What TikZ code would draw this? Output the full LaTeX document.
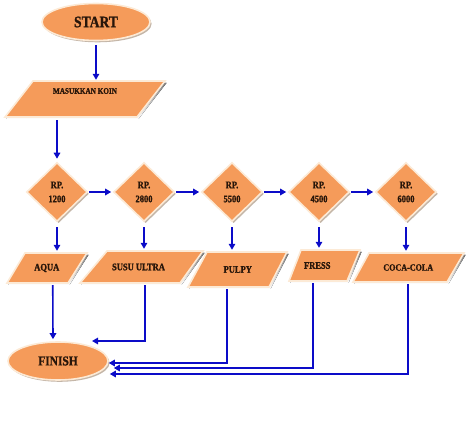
\documentclass[tikz,border=0pt]{standalone}
\usepackage{fontspec}
\newfontfamily\deco[FakeStretch=0.85, BoldFeatures={FakeBold=1.2}]{Liberation Serif}
\usetikzlibrary{shapes.geometric,arrows.meta,shadows,calc}
\definecolor{org}{RGB}{245,155,90}
\definecolor{rim}{RGB}{252,234,214}
\definecolor{shade}{RGB}{196,182,168}
\definecolor{ink}{RGB}{40,22,10}
\definecolor{flow}{RGB}{12,12,200}
\tikzset{
  box/.style={fill=org, draw=rim, line width=1.6pt, text=ink,
    drop shadow={shadow xshift=1.6pt, shadow yshift=-1.8pt, fill=shade, opacity=1}},
  oval/.style={box, ellipse, inner sep=0pt},
  choice/.style={box, diamond, inner sep=0pt, minimum width=61pt, minimum height=59pt,
    align=center, font=\deco\bfseries\fontsize{10}{14}\selectfont},
  lbl/.style={inner sep=0pt, text=ink, font=\deco\bfseries\fontsize{10}{12}\selectfont},
  flowarrow/.style={draw=flow, line width=1.6pt, -{Triangle[length=6pt,width=6.5pt]}},
}
\newcommand\para[8]{%
  \fill[shade] (#2+1.6,#6+1.8) -- (#3+1.6,#6+1.8) -- (#5+1.6,#7+1.8) -- (#4+1.6,#7+1.8) -- cycle;
  \filldraw[fill=org, draw=rim, line width=1.6pt] (#2,#6) -- (#3,#6) -- (#5,#7) -- (#4,#7) -- cycle;
  \node[lbl, minimum height={#7-#6}] (#1) at ({(#2+#3+#4+#5)/4},{(#6+#7)/2}) {#8};
}
\begin{document}
\begin{tikzpicture}[x=1pt,y=-1pt]
\useasboundingbox (0,0) rectangle (474,422);

% terminals
\node[oval, minimum width=108pt, minimum height=37pt, font=\deco\bfseries\fontsize{16}{18}\selectfont] (start) at (96,22) {START};
\node[oval, minimum width=100pt, minimum height=38pt, font=\deco\bfseries\fontsize{13.5}{16}\selectfont] (finish) at (58,361) {FINISH};

% input
\para{masuk}{33}{165}{5}{137}{81}{117}{\fontsize{8.5}{10}\selectfont\raisebox{16pt}{MASUKKAN KOIN}}

% decisions
\node[choice] (d1) at (57,192)  {RP.\\1200};
\node[choice] (d2) at (144,192) {RP.\\2800};
\node[choice] (d3) at (232,192) {RP.\\5500};
\node[choice] (d4) at (319,192) {RP.\\4500};
\node[choice] (d5) at (406,192) {RP.\\6000};

% outputs
\para{aqua}{25}{87}{7}{68}{253}{283}{AQUA}
\para{susu}{107}{203}{80}{180}{251}{283}{\hspace*{-8pt}SUSU ULTRA}
\para{pulpy}{207}{287}{188}{269}{252}{287}{PULPY}
\para{fress}{301}{360}{289}{347}{250}{281}{\hspace*{-14pt}FRESS}
\para{coca}{369}{464}{353}{447}{253}{282}{\fontsize{9.5}{12}\selectfont COCA-COLA}

% connectors
\draw[flowarrow, shorten <=4pt, shorten >=1pt] (start.south) -- (start.south |- masuk.north);
\draw[flowarrow, shorten <=3pt, shorten >=3pt] (masuk.south -| d1.north) -- (d1.north);
\foreach \a/\b in {d1/d2, d2/d3, d3/d4, d4/d5}
  \draw[flowarrow, shorten <=1pt, shorten >=1.5pt] (\a.east) -- (\b.west);
\draw[flowarrow, shorten <=5pt, shorten >=2pt] (d1.south) -- (d1.south |- aqua.north);
\draw[flowarrow, shorten <=5pt, shorten >=2pt] (d2.south) -- (d2.south |- susu.north);
\draw[flowarrow, shorten <=5pt, shorten >=2pt] (d3.south) -- (d3.south |- pulpy.north);
\draw[flowarrow, shorten <=5pt, shorten >=2pt] (d4.south) -- (d4.south |- fress.north);
\draw[flowarrow, shorten <=5pt, shorten >=2pt] (d5.south) -- (d5.south |- coca.north);

\draw[flowarrow] ($(aqua.south)+(6,2)$) -- ($(finish.north)+(-5,-2)$);
\draw[flowarrow] ($(susu.south)+(2.5,2)$) |- ($(finish.center)+(34,-20)$);
\draw[flowarrow] ($(pulpy.south)+(-10.75,2)$) |- ($(finish.east)+(0,2)$);
\draw[flowarrow] ($(fress.south)+(-11,2)$) |- ($(finish.east)+(5,7)$);
\draw[flowarrow] ($(coca.south)+(0,2)$) |- ($(finish.east)+(1,13)$);
\end{tikzpicture}
\end{document}
